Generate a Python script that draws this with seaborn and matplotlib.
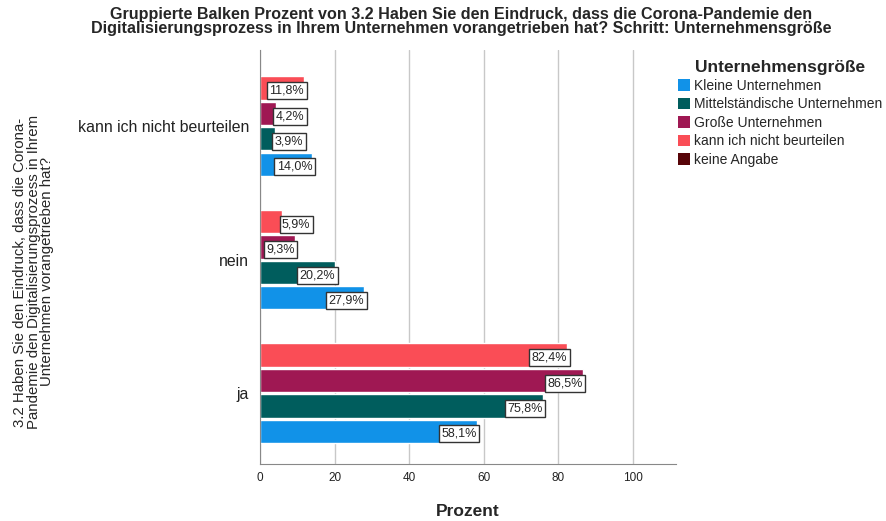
import matplotlib
matplotlib.use("Agg")
import matplotlib.pyplot as plt
from matplotlib.patches import Patch
import pandas as pd
import seaborn as sns

# answers (y categories, top to bottom)
antworten = ["kann ich nicht beurteilen", "nein", "ja"]

# groups in the legend order
groessen = ["Kleine Unternehmen", "Mittelständische Unternehmen", "Große Unternehmen",
            "kann ich nicht beurteilen", "keine Angabe"]
farben = ["#1192e8", "#005d5d", "#9f1853", "#fa4d56", "#570408"]

# percent per group, same order as antworten
kleine = [14.0, 27.9, 58.1]
mittel = [3.9, 20.2, 75.8]
grosse = [4.2, 9.3, 86.5]
kann_nicht = [11.8, 5.9, 82.4]

rows = []
for gr, vals in zip(groessen[:4], [kleine, mittel, grosse, kann_nicht]):
    for a, v in zip(antworten, vals):
        rows.append({"antwort": a, "groesse": gr, "prozent": v})
df = pd.DataFrame(rows)

sns.set_style("white")
plt.rcParams["font.family"] = ["Liberation Sans", "DejaVu Sans"]

fig = plt.figure(figsize=(8.87, 5.21), dpi=100)
ax = fig.add_axes([260 / 887, 1 - 464 / 521, (676 - 260) / 887, (464 - 50) / 521])

# top to bottom inside a group: red, magenta, teal, blue
hue_order = groessen[3::-1]
pal = dict(zip(groessen, farben))
sns.barplot(data=df, y="antwort", x="prozent", hue="groesse", order=antworten,
            hue_order=hue_order, palette=pal, orient="h", width=0.76, gap=0.08,
            saturation=1, ax=ax, legend=False)

ax.set_xlim(0, 111.5)
ax.set_ylim(2.53, -0.57)
ax.set_xticks([0, 20, 40, 60, 80, 100])
ax.xaxis.grid(True, color="#c8c8c8", linewidth=1)
ax.set_axisbelow(True)
for s in ["top", "right"]:
    ax.spines[s].set_visible(False)
for s in ["left", "bottom"]:
    ax.spines[s].set_color("#888888")
ax.tick_params(axis="x", labelsize=8.5, colors="#222222", length=0, pad=6)
ax.tick_params(axis="y", labelsize=11.4, colors="#222222", length=0, pad=8)

# labels with white boxes at the bar ends
for cont in ax.containers:
    for bar in cont:
        w = bar.get_width()
        yc = bar.get_y() + bar.get_height() / 2 + 0.02
        txt = f"{w:.1f}%".replace(".", ",")
        if w < 9:
            ax.text(w, yc, txt, ha="left", va="center", fontsize=9,
                    bbox=dict(boxstyle="square,pad=0.2", fc="white", ec="#333333", lw=1))
        else:
            ax.text(w, yc, txt, ha="right", va="center", fontsize=9,
                    bbox=dict(boxstyle="square,pad=0.2", fc="white", ec="#333333", lw=1))

ax.set_xlabel("Prozent", fontsize=12.5, fontweight="bold", labelpad=14)
ax.set_ylabel("")
fig.text(0.038, 0.478, "3.2 Haben Sie den Eindruck, dass die Corona-\n"
         "Pandemie den Digitalisierungsprozess in Ihrem\n"
         "Unternehmen vorangetrieben hat?", rotation=90, ha="center", va="center",
         fontsize=10.8, linespacing=0.95)

fig.text(0.52, 0.987, "Gruppierte Balken Prozent von 3.2 Haben Sie den Eindruck, dass die Corona-Pandemie den\n"
         "Digitalisierungsprozess in Ihrem Unternehmen vorangetrieben hat? Schritt: Unternehmensgröße",
         ha="center", va="top", fontsize=11.6, fontweight="bold", linespacing=0.92)

handles = [Patch(facecolor=c, edgecolor="none") for c in farben]
leg = fig.legend(handles, groessen, title="Unternehmensgröße", loc="upper left",
                 bbox_to_anchor=(672 / 887, 1 - 54 / 521), frameon=False, fontsize=10,
                 handlelength=0.9, handleheight=0.9, handletextpad=0.3, labelspacing=0.32,
                 alignment="center", borderaxespad=0)
leg.get_title().set_fontweight("bold")
leg.get_title().set_fontsize(12.5)

fig.savefig("out.png", dpi=100)
